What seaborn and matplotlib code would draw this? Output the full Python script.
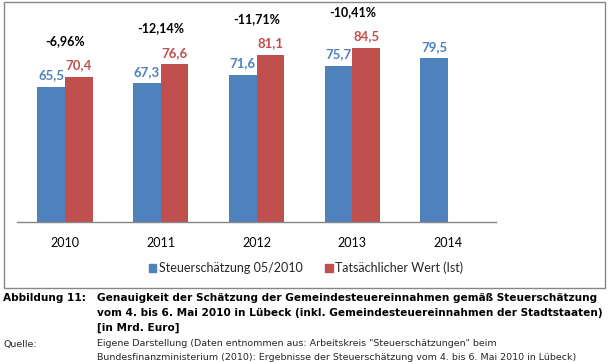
import matplotlib
matplotlib.use("Agg")
import matplotlib.pyplot as plt
import seaborn as sns
import pandas as pd
import numpy as np
from matplotlib.patches import Rectangle

years = ["2010", "2011", "2012", "2013", "2014"]
schaetzung = [65.5, 67.3, 71.6, 75.7, 79.5]
tatsaechlich = [70.4, 76.6, 81.1, 84.5, np.nan]
abweichung = ["-6,96%", "-12,14%", "-11,71%", "-10,41%"]
series_names = ["Steuerschätzung 05/2010", "Tatsächlicher Wert (Ist)"]

BLUE = "#4F81BD"
RED = "#C0504D"

df = pd.DataFrame({
    "Jahr": years * 2,
    "Reihe": [series_names[0]] * len(years) + [series_names[1]] * len(years),
    "Wert": schaetzung + tatsaechlich,
})

sns.set_theme(style="white")
plt.rcParams["font.family"] = ["Lato", "DejaVu Sans"]

W, H = 609, 362
fig = plt.figure(figsize=(W / 100, H / 100), dpi=100)

def fx(px):
    return px / W

def fy(py):
    return 1 - py / H

# chart frame
fig.patches.append(Rectangle((fx(4), fy(288)), fx(601), 286 / H, transform=fig.transFigure,
                             fill=False, edgecolor="#868686", linewidth=1.0))

ax = fig.add_axes([fx(17), fy(222), fx(479), 206 / H])
sns.barplot(data=df, x="Jahr", y="Wert", hue="Reihe", palette=[BLUE, RED],
            width=0.58, saturation=1, ax=ax, legend=False, errorbar=None, linewidth=0)
ax.set_ylim(0, 100)
ax.set_xlim(-0.5, len(years) - 0.5)
ax.set_xlabel("")
ax.set_ylabel("")
ax.set_yticks([])
for s in ["top", "right", "left"]:
    ax.spines[s].set_visible(False)
ax.spines["bottom"].set_color("#868686")
ax.spines["bottom"].set_linewidth(1.0)
ax.set_xticks(range(len(years)))
ax.set_xticklabels(years, fontsize=9, color="#000000")
ax.tick_params(axis="x", which="major", length=0, pad=11)
ax.set_xticks(np.arange(-0.5, len(years), 1.0), minor=True)
ax.tick_params(axis="x", which="minor", length=4, width=1.0, color="#868686", direction="out")

# value labels
containers = ax.containers
for cont, col in zip(containers, [BLUE, RED]):
    labels = []
    for rect in cont:
        h = rect.get_height()
        labels.append("" if np.isnan(h) else f"{h:.1f}".replace(".", ","))
    ax.bar_label(cont, labels=labels, color=col, fontsize=9.5, fontweight="bold", padding=4)

# percentage labels above the pairs
for i, lab in enumerate(abweichung):
    top = max(schaetzung[i], tatsaechlich[i])
    ax.annotate(lab, xy=(i, top), xytext=(0, 26), textcoords="offset points",
                ha="center", va="center", fontsize=9, fontweight="bold", color="#000000",
                annotation_clip=False)

# legend
handles = [Rectangle((0, 0), 1, 1, color=BLUE), Rectangle((0, 0), 1, 1, color=RED)]
fig.legend(handles, series_names, loc="center", bbox_to_anchor=(fx(306), fy(268)),
           ncol=2, frameon=False, fontsize=9, handlelength=0.6, handleheight=0.6,
           handletextpad=0.2, columnspacing=1.8)

# caption
cap_font = ["DejaVu Sans"]
fig.text(fx(3), fy(298), "Abbildung 11:", fontsize=7.6, fontweight="bold", family=cap_font,
         va="center", ha="left", color="#000000")
cap_lines = [
    "Genauigkeit der Schätzung der Gemeindesteuereinnahmen gemäß Steuerschätzung",
    "vom 4. bis 6. Mai 2010 in Lübeck (inkl. Gemeindesteuereinnahmen der Stadtstaaten)",
    "[in Mrd. Euro]",
]
for j, line in enumerate(cap_lines):
    fig.text(fx(97), fy(298 + 15 * j), line, fontsize=7.6, fontweight="bold", family=cap_font,
             va="center", ha="left", color="#000000")
fig.text(fx(3), fy(344), "Quelle:", fontsize=6.8, family=cap_font, va="center", ha="left")
src_lines = [
    "Eigene Darstellung (Daten entnommen aus: Arbeitskreis \"Steuerschätzungen\" beim",
    "Bundesfinanzministerium (2010): Ergebnisse der Steuerschätzung vom 4. bis 6. Mai 2010 in Lübeck)",
]
for j, line in enumerate(src_lines):
    fig.text(fx(97), fy(344 + 13 * j), line, fontsize=6.8, family=cap_font, va="center", ha="left")

fig.savefig("out.png", dpi=100)
